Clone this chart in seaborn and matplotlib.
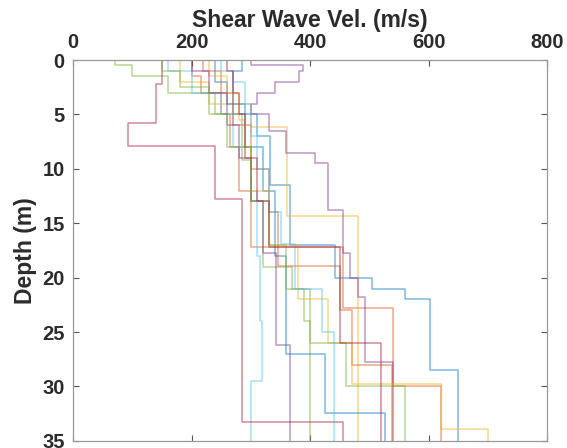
import matplotlib
matplotlib.use("Agg")
import matplotlib.pyplot as plt
import seaborn as sns

# layer tops (m) and shear wave velocities (m/s) for each profile
depth_1 = [0, 1, 5, 7, 11.5, 17, 20, 21, 22, 28.5]
vs_1 = [285, 270, 310, 333, 366, 442, 505, 560, 603, 650]
depth_2 = [0, 1.5, 3, 5, 8, 12, 17.2, 22.8, 30]
vs_2 = [200, 215, 250, 265, 280, 300, 455, 540, 620]
depth_3 = [0, 2, 4, 6.2, 14.3]
vs_3 = [180, 230, 300, 361, 481]
depth_4 = [0, 0.5, 1, 2, 3, 4, 5, 6.5, 8.5, 9.5, 13.8, 17.7, 20, 21.8, 27.8]
vs_4 = [300, 388, 382, 340, 310, 300, 330, 360, 408, 430, 455, 467, 480, 493, 540]
depth_5 = [0, 0.5, 1.5, 3, 5, 9.2, 13, 19, 21, 24]
vs_5 = [70, 100, 160, 240, 285, 300, 320, 370, 390, 400]
depth_6 = [0, 1, 3, 5, 8, 12, 18, 24, 29.5]
vs_6 = [160, 200, 250, 270, 300, 310, 315, 318, 300]
depth_7 = [0, 2.2, 5.8, 7.9, 12.8, 33.3]
vs_7 = [150, 140, 92, 240, 285, 455]
depth_8 = [0, 2, 4, 8, 12, 18, 27, 32.4]
vs_8 = [240, 260, 290, 320, 340, 360, 425, 527]
depth_9 = [0, 1, 3, 6, 10, 14, 18.9, 23, 28]
vs_9 = [220, 250, 270, 300, 330, 345, 450, 470, 538]
depth_10 = [0, 1.5, 3, 5.5, 8, 12, 17, 22, 26, 29.8, 33.9]
vs_10 = [230, 260, 280, 290, 300, 330, 380, 430, 470, 620, 700]
depth_11 = [0, 1, 3, 6, 9, 13, 17.7, 26.2]
vs_11 = [200, 230, 260, 280, 300, 320, 343, 366]
depth_12 = [0, 1, 2.5, 5, 8, 13, 17, 21, 26, 30]
vs_12 = [150, 180, 230, 260, 300, 330, 360, 400, 460, 560]
depth_13 = [0, 1, 2, 4, 7, 10, 14, 16.9, 21, 25]
vs_13 = [250, 270, 290, 300, 310, 330, 350, 375, 420, 440]
depth_14 = [0, 1, 3, 5, 9, 13, 17.2, 26]
vs_14 = [260, 270, 280, 290, 310, 330, 450, 520]

profiles = [(depth_1, vs_1), (depth_2, vs_2), (depth_3, vs_3), (depth_4, vs_4),
            (depth_5, vs_5), (depth_6, vs_6), (depth_7, vs_7), (depth_8, vs_8),
            (depth_9, vs_9), (depth_10, vs_10), (depth_11, vs_11), (depth_12, vs_12),
            (depth_13, vs_13), (depth_14, vs_14)]
max_depth = 35

matlab_colors = ["#0072BD", "#D95319", "#EDB120", "#7E2F8E",
                 "#77AC30", "#4DBEEE", "#A2142F"]

sns.set_style("white")
plt.rcParams["font.family"] = ["Liberation Sans", "DejaVu Sans"]
plt.rcParams["font.weight"] = "bold"

fig = plt.figure(figsize=(5.67, 4.48), dpi=100)
ax = fig.add_axes([0.129, 0.016, 0.836, 0.85])

for i, (tops, vs) in enumerate(profiles):
    bottoms = tops[1:] + [max_depth]
    xs, ys = [], []
    for top, bot, v in zip(tops, bottoms, vs):
        xs += [v, v]
        ys += [top, bot]
    ax.plot(xs, ys, color=matlab_colors[i % 7], lw=1.1, alpha=0.5)

ax.set_xlim(0, 800)
ax.set_ylim(35, 0)
ax.set_xticks([0, 200, 400, 600, 800])
ax.set_yticks([0, 5, 10, 15, 20, 25, 30, 35])
ax.xaxis.tick_top()
ax.xaxis.set_label_position("top")
ax.tick_params(direction="in", length=4, width=0.8, color="#555555",
               labelsize=14.5, labelcolor="#2b2b2b", pad=6,
               top=True, bottom=True, left=True, right=True,
               labeltop=True, labelbottom=False)
for lab in ax.get_xticklabels() + ax.get_yticklabels():
    lab.set_fontweight("bold")
ax.set_xlabel("Shear Wave Vel. (m/s)", fontsize=16.5, fontweight="bold",
              color="#2b2b2b", labelpad=4)
ax.set_ylabel("Depth (m)", fontsize=16.5, fontweight="bold", color="#2b2b2b",
              labelpad=4)
for s in ax.spines.values():
    s.set_color("#999999")
    s.set_linewidth(0.9)

fig.savefig("out.png", dpi=100)
